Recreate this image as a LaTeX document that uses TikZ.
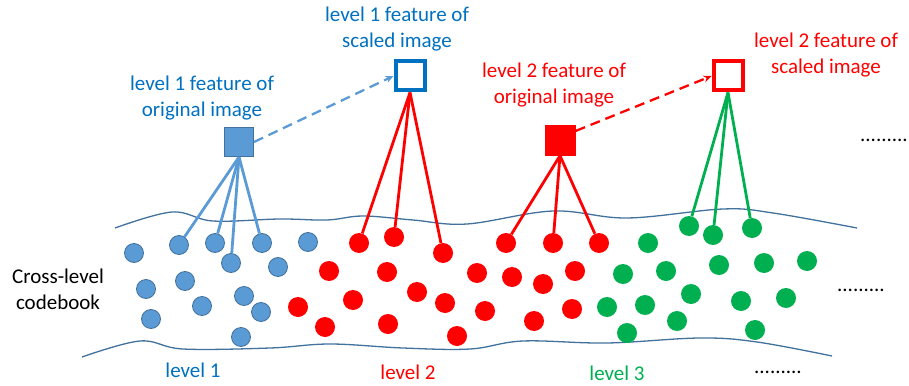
\documentclass[tikz,border=0pt]{standalone}
\usepackage{fontspec}
\setmainfont{Carlito}
\usetikzlibrary{arrows.meta}
\definecolor{ofblue}{HTML}{0070C0}
\definecolor{dotblue}{HTML}{5B9BD5}
\definecolor{edgeblue}{HTML}{41719C}
\definecolor{ofred}{HTML}{FF0000}
\definecolor{ofgreen}{HTML}{00B050}
\tikzset{
  lbl/.style={font=\fontsize{21}{26}\selectfont, align=center, inner sep=0pt},
  bdot/.style={circle, minimum size=19pt, inner sep=0pt, fill=dotblue, draw=edgeblue, line width=0.8pt},
  rdot/.style={circle, minimum size=20pt, inner sep=0pt, fill=ofred},
  gdot/.style={circle, minimum size=20pt, inner sep=0pt, fill=ofgreen},
  link/.style={line width=2.8pt},
  wave/.style={edgeblue, line width=1.3pt},
  jump/.style={line width=2.3pt, dash pattern=on 10pt off 6pt, -{Stealth[length=8pt,width=7pt]}},
}
\begin{document}
\begin{tikzpicture}[x=1pt, y=-1pt]
\useasboundingbox (0,0) rectangle (909,385);

% codebook boundaries
\draw[wave] plot[smooth, tension=0.6] coordinates {(115,228) (172,212) (213,221) (280,219) (327,220) (363,216) (413,220) (467,224) (553,211) (627,218) (723,209) (773,213) (857,228)};
\draw[wave] plot[smooth, tension=0.6] coordinates {(82,357) (140,341) (183,349) (270,348) (330,344) (403,348) (470,349) (523,341) (607,343) (700,338) (757,342) (832,356)};

% codewords
\foreach \p [count=\i] in {(134,253),(179,245),(215,243),(262,243),(308,242),(231,263),(278,267),(146,289),(185,281),(202,306),(244,296),(261,312),(151,319),(241,337)}
  \node[bdot] (b\i) at \p {};
\foreach \p [count=\i] in {(359,243),(394,237),(443,253),(329,271),(387,272),(417,292),(445,303),(298,307),(353,300),(325,327),(388,324),(457,336),(506,243),(553,243),(599,243),(477,273),(512,277),(543,284),(575,271),(485,311),(534,321),(572,309)}
  \node[rdot] (r\i) at \p {};
\foreach \p [count=\i] in {(689,226),(713,235),(752,228),(648,243),(623,274),(666,271),(719,265),(764,263),(807,261),(691,294),(645,305),(607,307),(741,301),(786,298),(677,321),(627,333),(755,330)}
  \node[gdot] (g\i) at \p {};

% features
\node[draw=edgeblue, fill=dotblue, line width=1pt, minimum size=29pt, inner sep=0pt] (f1o) at (239,142) {};
\node[draw=ofblue, fill=white, line width=4pt, minimum size=29pt, inner sep=0pt] (f1s) at (410,76) {};
\node[fill=ofred, minimum size=31pt, inner sep=0pt] (f2o) at (560,140) {};
\node[draw=ofred, fill=white, line width=4pt, minimum size=29pt, inner sep=0pt] (f2s) at (728,76) {};

% assignments
\foreach \t in {b2,b3,b6,b4} \draw[link, dotblue] (f1o.south) -- (\t);
\foreach \t in {r1,r2,r3} \draw[link, ofred] (f1s.south) -- (\t);
\foreach \t in {r13,r14,r15} \draw[link, ofred] (f2o.south) -- (\t);
\foreach \t in {g1,g2,g3} \draw[link, ofgreen] (f2s.south) -- (\t);

% scale links
\draw[jump, dotblue] (f1o.east) -- (f1s.west);
\draw[jump, ofred] (f2o.30) -- (f2s.west);

% labels
\node[lbl, text=ofblue] (t1) at (202,98) {level 1 feature of\\original image};
\node[lbl, text=ofblue] (t2) at (397,29) {level 1 feature of\\scaled image};
\node[lbl, text=ofred] (t3) at (554,85) {level 2 feature of\\original image};
\node[lbl, text=ofred] (t4) at (826,55) {level 2 feature of\\scaled image};
\node[lbl] (t5) at (58,289) {Cross-level\\codebook};
\node[lbl, text=ofblue] (t6) at (193,370) {level 1};
\node[lbl, text=ofred] (t7) at (408,372) {level 2};
\node[lbl, text=ofgreen] (t8) at (617,373) {level 3};
\node[lbl] (d1) at (884,140) {.........};
\node[lbl] (d2) at (861,290) {.........};
\node[lbl] (d3) at (778,372) {.........};
\end{tikzpicture}
\end{document}
